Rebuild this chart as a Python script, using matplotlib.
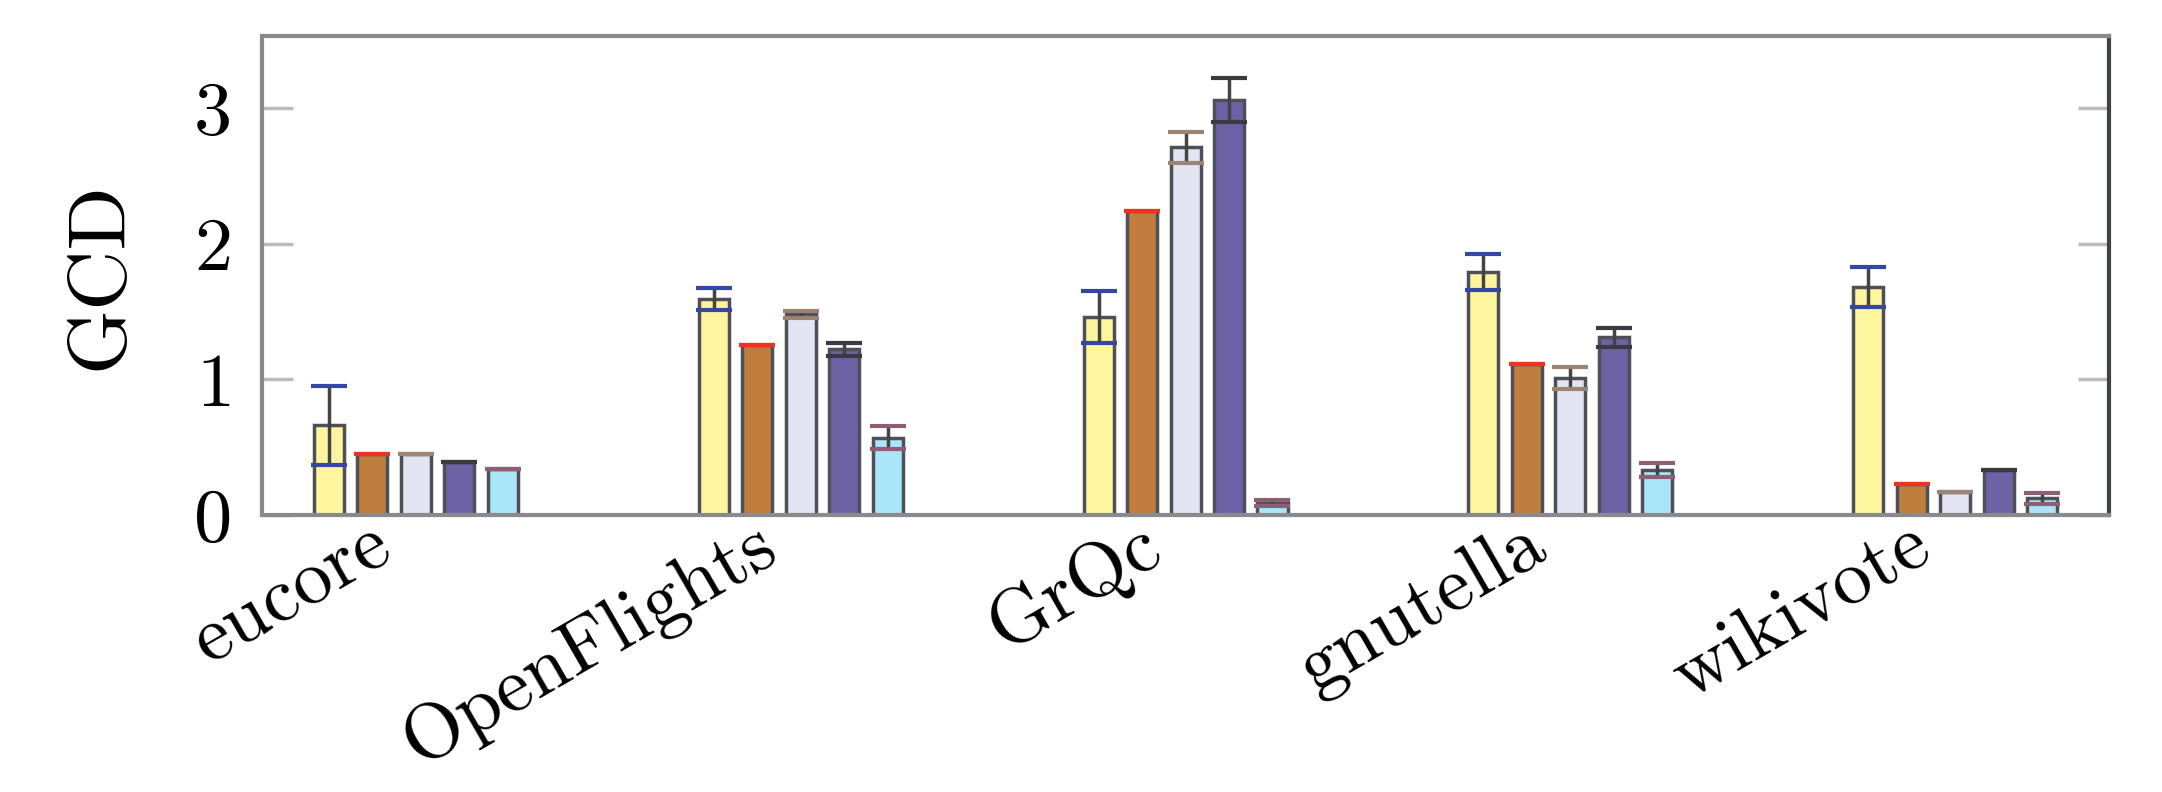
import numpy as np
import matplotlib
matplotlib.use('Agg')
import matplotlib.pyplot as plt
import matplotlib.transforms as mtransforms

plt.rcParams['font.family'] = 'cmr10'
plt.rcParams['axes.formatter.use_mathtext'] = True

# data
datasets = ['eucore', 'OpenFlights', 'GrQc', 'gnutella', 'wikivote']

s1_vals = [0.66, 1.59, 1.46, 1.79, 1.68]
s1_errs = [0.29, 0.08, 0.19, 0.135, 0.15]
s2_vals = [0.45, 1.25, 2.24, 1.11, 0.23]
s2_errs = [0.0, 0.0, 0.0, 0.0, 0.0]
s3_vals = [0.45, 1.48, 2.71, 1.01, 0.17]
s3_errs = [0.0, 0.025, 0.115, 0.08, 0.0]
s4_vals = [0.39, 1.22, 3.06, 1.31, 0.33]
s4_errs = [0.0, 0.045, 0.16, 0.07, 0.0]
s5_vals = [0.34, 0.57, 0.09, 0.33, 0.125]
s5_errs = [0.0, 0.085, 0.02, 0.05, 0.04]

series = [
	( s1_vals, s1_errs, '#fff59e', '#3447a6' ),
	( s2_vals, s2_errs, '#c07e3e', '#ee3322' ),
	( s3_vals, s3_errs, '#e3e5f2', '#9b8473' ),
	( s4_vals, s4_errs, '#6e62a6', '#3a3a42' ),
	( s5_vals, s5_errs, '#a8e6f8', '#8c5f75' ),
]

fig = plt.figure( figsize = ( 21.62, 7.92 ), dpi = 100 )
ax  = fig.add_axes( [ 0.1212, 0.3497, 0.8543, 0.6048 ] )

x     = np.arange( len( datasets ) )
step  = 0.113
width = 0.078

for n, ( vals, errs, fc, cc ) in enumerate( series ):
	xs = x + ( n - 2 ) * step
	ax.bar( xs, vals, width, color = fc, edgecolor = '#4f4f58',
		linewidth = 2.5, zorder = 2 )
	_, caps, _ = ax.errorbar( xs, vals, yerr = errs, fmt = 'none',
		ecolor = '#444444', elinewidth = 2.5, capsize = 13,
		capthick = 3.0, zorder = 3 )
	for cap in caps:
		cap.set_markeredgecolor( cc )

ax.set_xlim( -0.40, 4.40 )
ax.set_ylim( 0, 3.53 )
ax.set_yticks( [ 0, 1, 2, 3 ] )
ax.set_xticks( x )
ax.set_xticklabels( datasets, rotation = 30, ha = 'right',
	rotation_mode = 'anchor', fontsize = 56 )
ax.tick_params( axis = 'x', length = 0, pad = 0 )
ax.tick_params( axis = 'y', direction = 'in', length = 22, width = 2.5,
	color = '#bbbbbb', labelsize = 55, pad = 23, left = True, right = True )
ax.set_ylabel( 'GCD', fontsize = 60, labelpad = 40 )

# shift the rotated labels left/up so they sit where the reference's do
offset = mtransforms.ScaledTranslation( -34 / 72, 4 / 72, fig.dpi_scale_trans )
for lab in ax.get_xticklabels():
	lab.set_transform( lab.get_transform() + offset )

for side in [ 'left', 'bottom', 'top' ]:
	ax.spines[ side ].set_color( '#8a8a8e' )
	ax.spines[ side ].set_linewidth( 3 )
ax.spines[ 'right' ].set_color( '#3d4149' )
ax.spines[ 'right' ].set_linewidth( 3 )

plt.savefig( 'out.png', dpi = 100 )
